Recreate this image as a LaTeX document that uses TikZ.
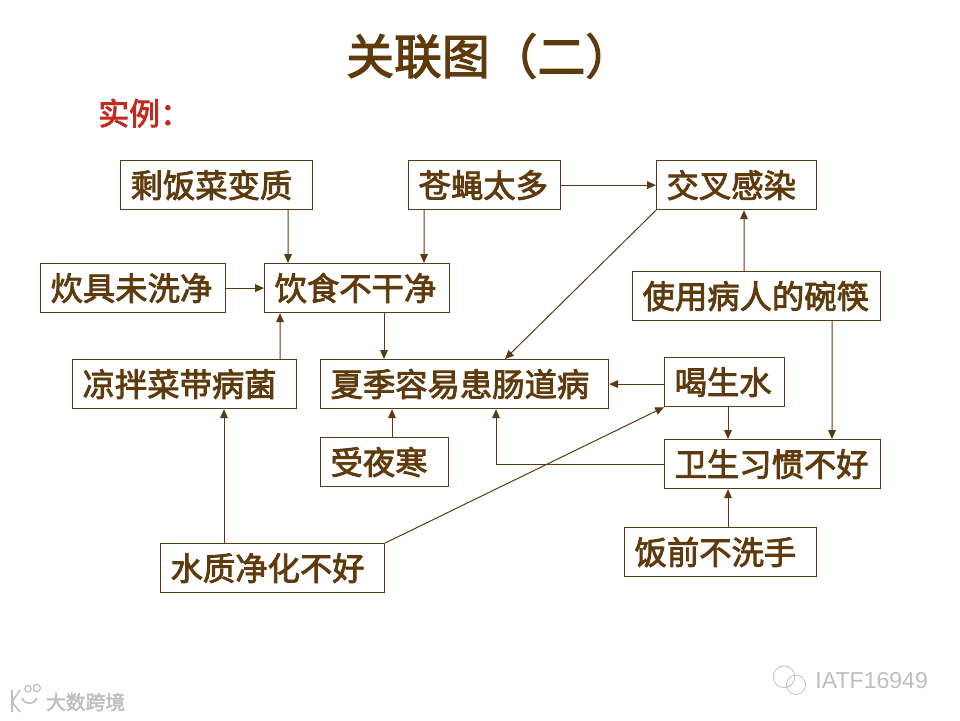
\documentclass[tikz,border=0pt]{standalone}
\usepackage{fontspec}
\usepackage{xcolor}
\usetikzlibrary{arrows.meta}
\newfontfamily\cjk[FakeBold=2.5]{Noto Sans CJK SC}
\setsansfont{Liberation Sans}
\definecolor{boxbrown}{HTML}{5A3A14}
\definecolor{textbrown}{HTML}{5F3A0C}
\definecolor{headred}{HTML}{C22A1E}
\definecolor{markgray}{HTML}{BEBEBE}

\begin{document}
\begin{tikzpicture}[
    cause/.style={rectangle, draw=boxbrown, fill=white, line width=0.3mm, anchor=north west, inner xsep=0.25cm, inner ysep=0pt, minimum height=1.225cm, align=left, text=textbrown, font=\cjk\fontsize{23}{26}\selectfont},
    rel/.style={-{Triangle[length=2.2mm, width=1.9mm]}, line width=0.25mm, draw=boxbrown},
    title/.style={text=textbrown, font=\cjk\fontsize{34}{38}\selectfont},
    subhead/.style={text=headred, font=\cjk\fontsize{22}{26}\selectfont},
    wmark/.style={text=markgray, inner sep=0pt},
]
    \useasboundingbox (0,0) rectangle (24,18);

    % headings
    \node[title, anchor=west, inner sep=0pt] (head) at (8.65,16.6) {关联图（二）};
    \node[subhead, anchor=west, inner sep=0pt] (example) at (2.45,15.17) {实例：};

    % top row
    \node[cause, text width=4.3cm] (spoiled) at (3.0,14) {剩饭菜变质};
    \node[cause, text width=3.3cm] (flies) at (10.2,14) {苍蝇太多};
    \node[cause, text width=3.5cm] (cross) at (16.4,14) {交叉感染};

    % second row
    \node[cause, text width=4.125cm] (cookware) at (1.0,11.425) {炊具未洗净};
    \node[cause, text width=4.125cm] (food) at (6.6,11.425) {饮食不干净};
    \node[cause, text width=5.7cm] (bowls) at (15.8,11.225) {使用病人的碗筷};

    % third row
    \node[cause, text width=5.1cm] (salad) at (1.8,9.025) {凉拌菜带病菌};
    \node[cause, text width=6.7cm] (disease) at (8.0,9.025) {夏季容易患肠道病};
    \node[cause, text width=2.5cm] (water) at (16.6,9.075) {喝生水};

    % lower rows
    \node[cause, text width=2.7cm] (cold) at (8.0,7.075) {受夜寒};
    \node[cause, text width=4.9cm] (habits) at (16.6,7.025) {卫生习惯不好};
    \node[cause, text width=4.3cm] (hands) at (15.6,4.825) {饭前不洗手};
    \node[cause, text width=5.1cm] (purify) at (4.0,4.425) {水质净化不好};

    % relationships
    \draw[rel] ([xshift=4.2cm]spoiled.south west) -- ([xshift=0.6cm]food.north west);
    \draw[rel] ([xshift=0.4cm]flies.south west) -- ([xshift=4cm]food.north west);
    \draw[rel] (flies.east) -- (cross.west);
    \draw[rel] (cookware.east) -- (food.west);
    \draw[rel] ([xshift=5.2cm]salad.north west) -- ([xshift=0.4cm]food.south west);
    \draw[rel] ([xshift=3cm]food.south west) -- ([xshift=1.6cm]disease.north west);
    \draw[rel] (cross.south west) -- ([xshift=4.625cm]disease.north west);
    \draw[rel] ([xshift=2.8cm]bowls.north west) -- ([xshift=2.2cm]cross.south west);
    \draw[rel] ([xshift=5cm]bowls.south west) -- ([xshift=4.2cm]habits.north west);
    \draw[rel] (water.west |- disease.east) -- (disease.east);
    \draw[rel] ([xshift=1.6cm]water.south west) -- ([xshift=1.6cm]habits.north west);
    \draw[rel] ([xshift=1.8cm]cold.north west) -- ([xshift=1.8cm]disease.south west);
    \draw[rel] (habits.west) -| ([xshift=4.4cm]disease.south west);
    \draw[rel] ([xshift=2.6cm]hands.north west) -- ([xshift=1.6cm]habits.south west);
    \draw[rel] ([xshift=1.6cm]purify.north west) -- ([xshift=3.8cm]salad.south west);
    \draw[rel] (purify.north east) -- (water.south west);

    % watermarks
    \node[wmark, anchor=west, font=\cjk\fontsize{14}{16}\selectfont] (markleft) at (1.15,0.45) {大数跨境};
    \draw[markgray, line width=0.4mm] (0.3,0.75) -- (0.3,0.2) (0.3,0.45) -- (0.5,0.75) (0.3,0.45) -- (0.5,0.2);
    \draw[markgray, line width=0.4mm] (0.55,0.55) arc[start angle=200, end angle=340, radius=0.2];
    \draw[markgray, line width=0.3mm] (0.7,0.78) circle[radius=0.08] (0.92,0.8) circle[radius=0.09];
    \node[wmark, anchor=west, font=\sffamily\fontsize{16.4}{20}\selectfont] (markright) at (20.38,0.98) {IATF16949};
    \draw[markgray, line width=0.2mm] (19.6,1.08) circle[radius=0.27] (19.9,0.88) circle[radius=0.24];
\end{tikzpicture}
\end{document}
